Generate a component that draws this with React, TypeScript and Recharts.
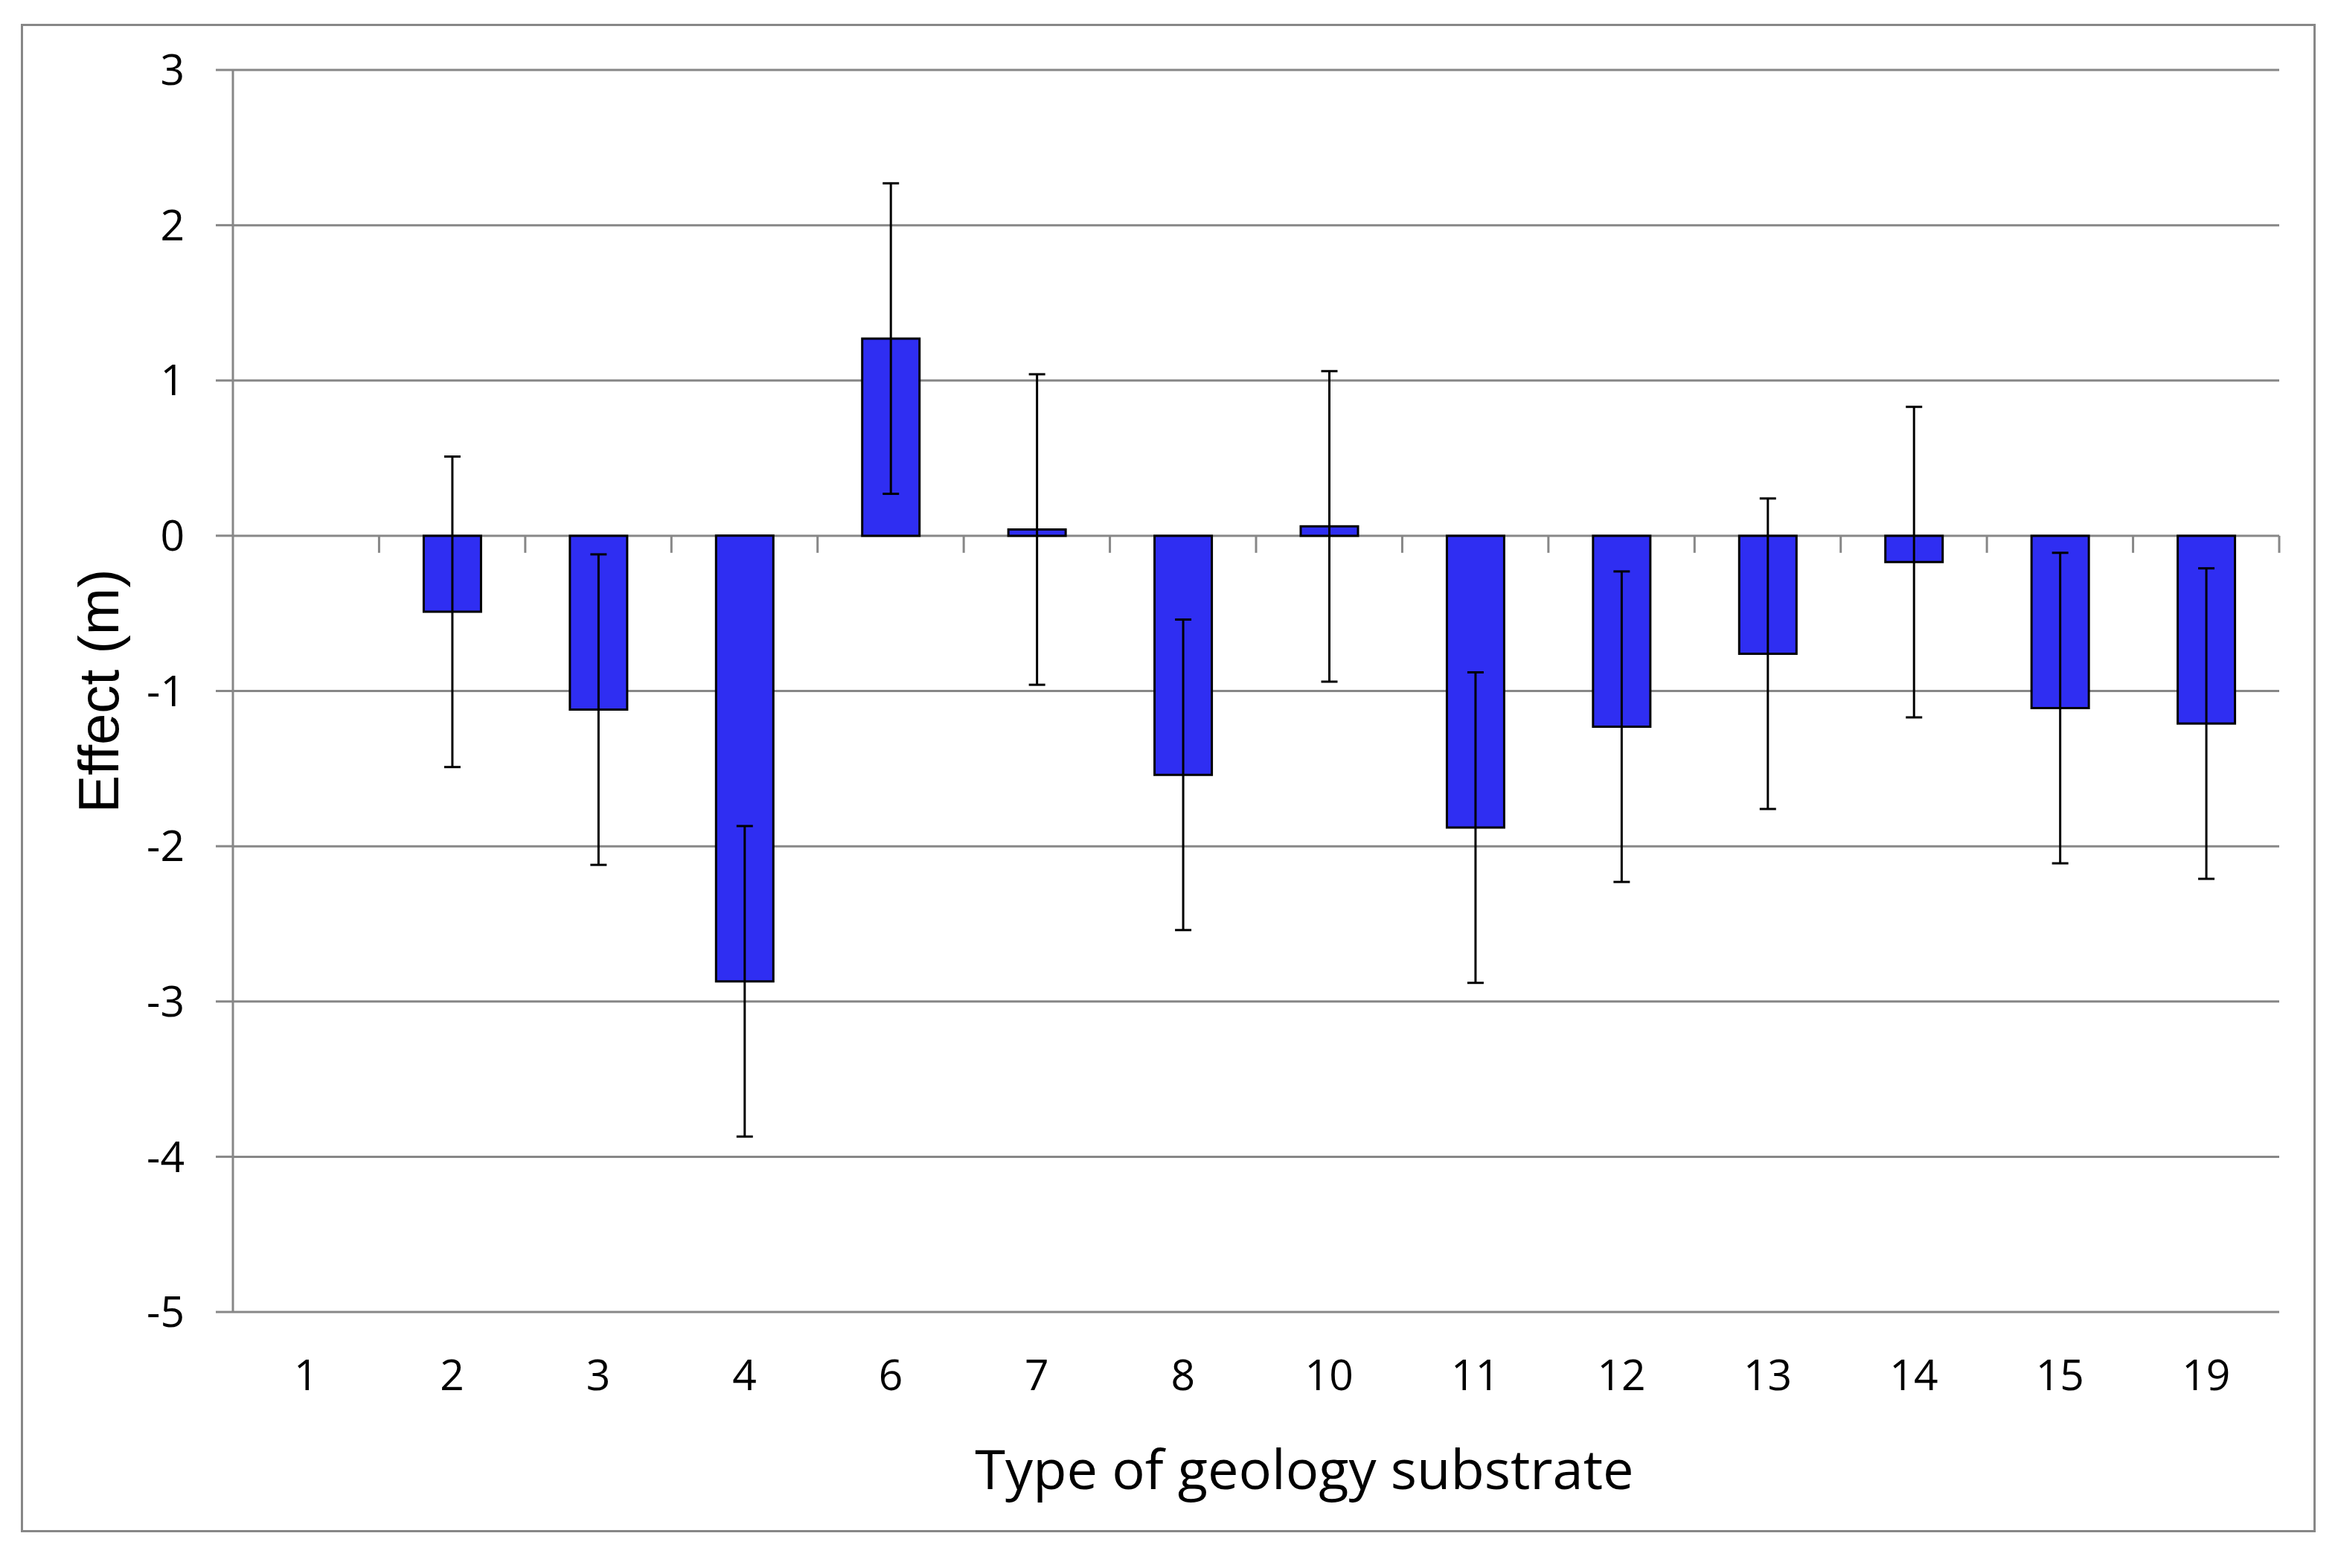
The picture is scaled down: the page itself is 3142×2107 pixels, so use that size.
import { BarChart, Bar, XAxis, YAxis, CartesianGrid, ErrorBar, ReferenceLine } from "recharts";

const categories = ["1", "2", "3", "4", "6", "7", "8", "10", "11", "12", "13", "14", "15", "19"];
const effects = [null, -0.49, -1.12, -2.87, 1.27, 0.04, -1.54, 0.06, -1.88, -1.23, -0.76, -0.17, -1.11, -1.21];
const errors = [null, 1.0, 1.0, 1.0, 1.0, 1.0, 1.0, 1.0, 1.0, 1.0, 1.0, 1.0, 1.0, 1.0];
const yTicks = [-5, -4, -3, -2, -1, 0, 1, 2, 3];

const data = categories.map((c, i) => ({ name: c, effect: effects[i], err: errors[i] }));

const GRID = "#878787";
const BAR = "#2f2ef2";

export default function App() {
  return (
    <div style={{ position: "relative", width: 3142, height: 2107, background: "#fff" }}>
      <style>{`body{margin:0}`}</style>
      <div
        style={{
          position: "absolute",
          left: 28,
          top: 32,
          width: 3084,
          height: 2027,
          border: `3px solid ${GRID}`,
          boxSizing: "border-box",
        }}
      />
      <div style={{ position: "absolute", left: 0, top: 0 }}>
        <BarChart width={3142} height={2107} data={data} margin={{ top: 94, right: 79, bottom: 94, left: 0 }} barSize={77}>
          <CartesianGrid vertical={false} stroke={GRID} strokeWidth={3} />
          <XAxis
            dataKey="name"
            height={250}
            axisLine={false}
            tickLine={false}
            tickSize={0}
            tickMargin={65}
            tick={{ fontSize: 57, fontFamily: "Open Sans", fill: "#000" }}
            label={{
              value: "Type of geology substrate",
              position: "insideBottom",
              offset: 12,
              dx: 65,
              fontSize: 74,
              fontFamily: "Open Sans",
              fill: "#000",
            }}
          />
          <YAxis
            width={313}
            domain={[-5, 3]}
            ticks={yTicks}
            interval={0}
            axisLine={{ stroke: GRID, strokeWidth: 3 }}
            tickLine={{ stroke: GRID, strokeWidth: 3 }}
            tickSize={23}
            tickMargin={42}
            tick={{ fontSize: 57, fontFamily: "Open Sans", fill: "#000" }}
            label={{
              value: "Effect (m)",
              angle: -90,
              position: "center",
              dx: -24,
              fontSize: 76,
              fontFamily: "Liberation Sans",
              fill: "#000",
            }}
          />
          <Bar dataKey="effect" fill={BAR} stroke="#000" strokeWidth={3} isAnimationActive={false}>
            <ErrorBar dataKey="err" width={11} stroke="#000" strokeWidth={3} isAnimationActive={false} />
          </Bar>
          {categories.slice(1).map((c) => (
            <ReferenceLine
              key={c}
              segment={[{ x: c, y: 0 }, { x: c, y: -0.11 }]}
              position="start"
              stroke={GRID}
              strokeWidth={3}
            />
          ))}
          <ReferenceLine
            segment={[{ x: categories[categories.length - 1], y: 0 }, { x: categories[categories.length - 1], y: -0.11 }]}
            position="end"
            stroke={GRID}
            strokeWidth={3}
          />
        </BarChart>
      </div>
    </div>
  );
}
